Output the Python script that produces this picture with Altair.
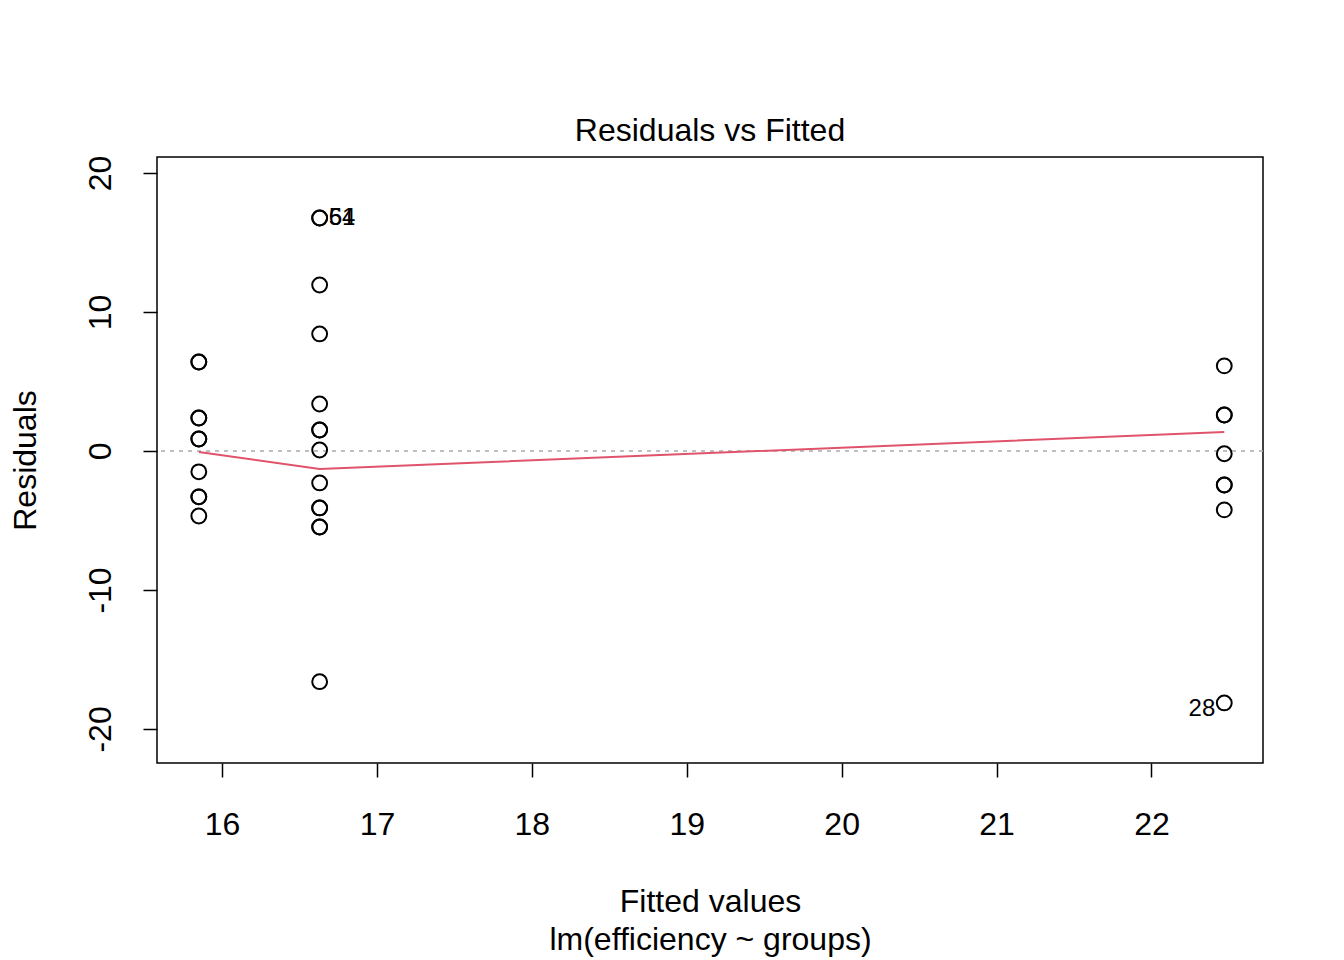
import altair as alt
import pandas as pd

# Data
fitted = [15.85]*10 + [16.63]*14 + [22.47]*8
residuals = [
    6.40, 6.40, 2.37, 2.37, 0.86, 0.86, -1.50, -3.30, -3.30, -4.68,
    16.76, 16.76, 11.94, 8.42, 3.38, 1.51, 1.51, 0.07, -2.30, -4.10, -4.10, -5.47, -5.47, -16.60,
    6.12, 2.59, 2.59, -0.20, -2.45, -2.45, -4.24, -18.13,
]

smooth_x = [15.85, 16.63, 22.47]
smooth_y = [-0.07, -1.30, 1.37]

label_text = ["54", "61", "28"]
label_x = [16.63, 16.63, 22.47]
label_y = [16.76, 16.76, -18.13]
label_side = ["right", "right", "left"]

x_ticks = [16, 17, 18, 19, 20, 21, 22]
y_ticks = [-20, -10, 0, 10, 20]

pts = pd.DataFrame({"fitted": fitted, "resid": residuals})
sm = pd.DataFrame({"fitted": smooth_x, "resid": smooth_y})
lab = pd.DataFrame({"fitted": label_x, "resid": label_y, "text": label_text, "side": label_side})
zero = pd.DataFrame({"resid": [0]})

FONT = "Liberation Sans"
FS = 32

xscale = alt.Scale(domain=[15.58, 22.72], nice=False, zero=False)
yscale = alt.Scale(domain=[-22.45, 21.15], nice=False, zero=False)

xaxis = alt.Axis(
    values=x_ticks, grid=False, domain=False, labelExpr="toString(datum.value)",
    tickColor="black", tickSize=14, tickWidth=1.5,
    labelFont=FONT, labelFontSize=FS, labelColor="black", labelPadding=32,
    title=["Fitted values", "lm(efficiency ~ groups)"],
    titleFont=FONT, titleFontSize=FS, titleFontWeight="normal", titleColor="black",
    titleLineHeight=38, titlePadding=46,
)
yaxis = alt.Axis(
    values=y_ticks, grid=False, domain=False, labelExpr="toString(datum.value)",
    tickColor="black", tickSize=14, tickWidth=1.5,
    labelFont=FONT, labelFontSize=FS, labelColor="black", labelPadding=26,
    labelAngle=270, labelAlign="center", labelBaseline="bottom",
    title="Residuals", titleFont=FONT, titleFontSize=FS, titleFontWeight="normal",
    titleColor="black", titlePadding=42,
)

base_x = alt.X("fitted:Q", scale=xscale, axis=xaxis)
base_y = alt.Y("resid:Q", scale=yscale, axis=yaxis)

zline = alt.Chart(zero).mark_rule(color="#AAAAAA", strokeDash=[4, 5], strokeWidth=1.5).encode(
    y=alt.Y("resid:Q", scale=yscale)
)

points = alt.Chart(pts).mark_point(
    shape="circle", filled=False, color="black", size=220, strokeWidth=2, opacity=1
).encode(x=base_x, y=base_y)

smooth = alt.Chart(sm).mark_line(color="#DF536B", strokeWidth=2).encode(
    x=alt.X("fitted:Q", scale=xscale), y=alt.Y("resid:Q", scale=yscale)
)

lab_r = alt.Chart(lab[lab.side == "right"]).mark_text(
    align="left", baseline="middle", dx=9, font=FONT, fontSize=24, color="black"
).encode(x=alt.X("fitted:Q", scale=xscale), y=alt.Y("resid:Q", scale=yscale), text="text:N")

lab_l = alt.Chart(lab[lab.side == "left"]).mark_text(
    align="right", baseline="middle", dx=-9, dy=6, font=FONT, fontSize=24, color="black"
).encode(x=alt.X("fitted:Q", scale=xscale), y=alt.Y("resid:Q", scale=yscale), text="text:N")

chart = alt.layer(zline, smooth, points, lab_r, lab_l).properties(
    width=1106, height=606,
    background="white",
    title=alt.TitleParams("Residuals vs Fitted", font=FONT, fontSize=FS,
                          fontWeight="normal", color="black", offset=7),
    autosize=alt.AutoSizeParams(type="none"),
    padding={"left": 149, "top": 149, "right": 73, "bottom": 195},
).configure_view(stroke="black", strokeWidth=1.5)

chart.save("out.html", embed_options={"renderer": "svg", "actions": False})
